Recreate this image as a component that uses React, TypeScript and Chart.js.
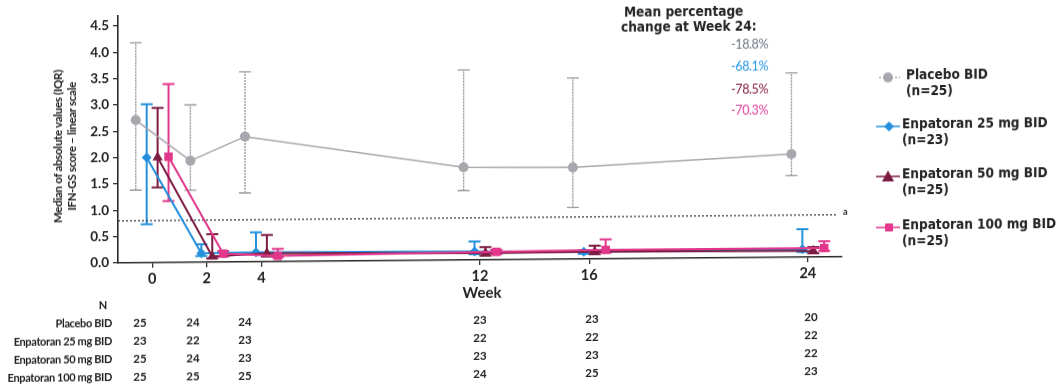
import { useEffect, useRef } from 'react';
import { Chart, registerables } from 'chart.js';

Chart.register(...registerables);

// ---- data ----
const weeks = [0, 2, 4, 12, 16, 24];
const yTickValues = [0, 0.5, 1, 1.5, 2, 2.5, 3, 3.5, 4, 4.5];

const seriesNames = ['Placebo BID', 'Enpatoran 25 mg BID', 'Enpatoran 50 mg BID', 'Enpatoran 100 mg BID'];
const seriesN = [25, 23, 25, 25];

const placeboMedian = [2.71, 1.93, 2.38, 1.76, 1.74, 1.96];
const placeboQ1 = [1.38, 1.37, 1.31, 1.32, 0.98, 1.55];
const placeboQ3 = [4.18, 2.99, 3.61, 3.61, 3.44, 3.5];

const enp25Median = [2.0, 0.17, 0.18, 0.16, 0.14, 0.15];
const enp25Q1 = [0.73, 0.12, 0.14, 0.11, 0.1, 0.1];
const enp25Q3 = [3.01, 0.34, 0.56, 0.35, 0.17, 0.53];

const enp50Median = [2.0, 0.11, 0.16, 0.13, 0.14, 0.12];
const enp50Q1 = [1.43, 0.07, 0.1, 0.08, 0.09, 0.07];
const enp50Q3 = [2.94, 0.53, 0.51, 0.24, 0.25, 0.19];

const enp100Median = [2.01, 0.16, 0.11, 0.15, 0.17, 0.17];
const enp100Q1 = [1.17, 0.11, 0.08, 0.11, 0.12, 0.12];
const enp100Q3 = [3.39, 0.21, 0.24, 0.19, 0.37, 0.3];

const nPlacebo = [25, 24, 24, 23, 23, 20];
const nEnp25 = [23, 22, 23, 22, 22, 22];
const nEnp50 = [25, 24, 23, 23, 23, 22];
const nEnp100 = [25, 25, 25, 24, 25, 23];

const meanChangeWeek24 = [-18.8, -68.1, -78.5, -70.3];
const thresholdValue = 0.8;

// ---- layout / style ----
const W = 1064;
const H = 388;
const AREA_LEFT = 118;
const AREA_RIGHT = 842;
const AREA_TOP = 16;
const AREA_BOTTOM = 263;
const X_MIN = -1.25;
const X_MAX = 25.25;
const Y_MAX = 4.69;

const styles = [
  { color: '#a7a7ad', bar: '#9a9aa0', dash: [2, 1], lineWidth: 1.5, pointStyle: 'circle', radius: 5, offset: -0.6, text: '#6b7282' },
  { color: '#2490dc', bar: '#2490dc', dash: [], lineWidth: 2, pointStyle: 'rectRot', radius: 5, offset: -0.2, text: '#2196e6' },
  { color: '#7c1c42', bar: '#7c1c42', dash: [], lineWidth: 2, pointStyle: 'triangle', radius: 6, offset: 0.2, text: '#85193f' },
  { color: '#e2378b', bar: '#e2378b', dash: [], lineWidth: 2, pointStyle: 'rect', radius: 6, offset: 0.6, text: '#e23d98' },
];

const medians = [placeboMedian, enp25Median, enp50Median, enp100Median];
const q1s = [placeboQ1, enp25Q1, enp50Q1, enp100Q1];
const q3s = [placeboQ3, enp25Q3, enp50Q3, enp100Q3];
const counts = [nPlacebo, nEnp25, nEnp50, nEnp100];

const tableColX = [140, 193, 245, 480, 592, 811];
const tableRowY = [322.5, 341, 358.5, 376.5];

const legendY = [84, 133, 183, 234];
const pctY = [50.4, 72.1, 94.7, 116.4];

// vertical IQR whiskers with caps, drawn beneath the lines and markers
const iqrPlugin = {
  id: 'iqrWhiskers',
  beforeDatasetsDraw(chart: any) {
    const ctx = chart.ctx;
    const yScale = chart.scales.y;
    chart.data.datasets.forEach((ds: any, i: number) => {
      if (!ds.lo) return;
      const meta = chart.getDatasetMeta(i);
      meta.data.forEach((pt: any, j: number) => {
        const x = pt.x;
        const yl = yScale.getPixelForValue(ds.lo[j]);
        const yh = yScale.getPixelForValue(ds.hi[j]);
        ctx.save();
        ctx.strokeStyle = ds.whiskerColor;
        ctx.lineWidth = ds.whiskerWidth;
        ctx.setLineDash(ds.whiskerDash);
        ctx.beginPath();
        ctx.moveTo(x, yl);
        ctx.lineTo(x, yh);
        ctx.stroke();
        ctx.setLineDash([]);
        ctx.beginPath();
        ctx.moveTo(x - 6, yh);
        ctx.lineTo(x + 6, yh);
        ctx.moveTo(x - 6, yl);
        ctx.lineTo(x + 6, yl);
        ctx.stroke();
        ctx.restore();
      });
    });
  },
};

function LegendMarker({ idx }: { idx: number }) {
  const s = styles[idx];
  let shape: any = null;
  if (s.pointStyle === 'circle') shape = <circle cx={14} cy={7} r={5} fill={s.color} />;
  if (s.pointStyle === 'rectRot') shape = <polygon points="15,2 20,7 15,12 10,7" fill={s.color} />;
  if (s.pointStyle === 'triangle') shape = <polygon points="14,1 20,12 8,12" fill={s.color} />;
  if (s.pointStyle === 'rect') shape = <rect x={11} y={3} width={8} height={8} fill={s.color} />;
  return (
    <svg width={28} height={14} style={{ position: 'absolute', left: 874, top: legendY[idx] - 7 }}>
      <line x1={idx === 0 ? 5 : 2} y1={7} x2={26} y2={7} stroke={s.color} strokeWidth={1.5} strokeDasharray={idx === 0 ? '2 2' : undefined} />
      {shape}
    </svg>
  );
}

export default function App() {
  const canvasRef = useRef<HTMLCanvasElement>(null);

  useEffect(() => {
    const datasets: any[] = medians.map((m, i) => ({
      label: seriesNames[i],
      data: weeks.map((w, j) => ({ x: w + styles[i].offset, y: m[j] })),
      lo: q1s[i],
      hi: q3s[i],
      whiskerColor: styles[i].bar,
      whiskerWidth: i === 0 ? 1.4 : 2,
      whiskerDash: styles[i].dash,
      borderColor: styles[i].color,
      backgroundColor: styles[i].color,
      borderWidth: styles[i].lineWidth,
      pointStyle: styles[i].pointStyle,
      pointRadius: styles[i].radius,
      pointBorderWidth: 0,
      pointBackgroundColor: styles[i].color,
      tension: 0,
      order: 4 - i,
    }));
    datasets.push({
      label: 'threshold',
      data: [
        { x: X_MIN, y: thresholdValue },
        { x: 25.1, y: thresholdValue },
      ],
      borderColor: '#3c4250',
      borderWidth: 1.3,
      borderDash: [2, 2],
      pointRadius: 0,
      order: 10,
    });

    const chart = new Chart(canvasRef.current as HTMLCanvasElement, {
      type: 'line',
      data: { datasets },
      plugins: [iqrPlugin],
      options: {
        animation: false,
        responsive: false,
        devicePixelRatio: 1,
        layout: { padding: { left: 0, top: AREA_TOP, right: W - AREA_RIGHT, bottom: 0 } },
        plugins: { legend: { display: false }, tooltip: { enabled: false } },
        scales: {
          x: {
            type: 'linear',
            min: X_MIN,
            max: X_MAX,
            afterBuildTicks: (scale: any) => {
              scale.ticks = weeks.map((v) => ({ value: v }));
            },
            afterFit: (scale: any) => {
              scale.height = H - AREA_BOTTOM;
            },
            ticks: {
              color: '#222',
              font: { family: 'Lato', size: 14.5, weight: 'bold' },
              padding: 3,
              maxRotation: 0,
              autoSkip: false,
              callback: (v: any) => String(v),
            },
            grid: { drawOnChartArea: false, drawTicks: true, tickLength: 5, color: '#333', lineWidth: 1.3 },
            border: { display: true, color: '#2a2a2a', width: 1.6 },
          },
          y: {
            type: 'linear',
            min: 0,
            max: Y_MAX,
            afterBuildTicks: (scale: any) => {
              scale.ticks = yTickValues.map((v) => ({ value: v }));
            },
            afterFit: (scale: any) => {
              scale.width = AREA_LEFT;
            },
            ticks: {
              color: '#222',
              font: { family: 'Lato', size: 13.5, weight: 'bold' },
              padding: 4,
              callback: (v: any) => Number(v).toFixed(1),
            },
            grid: { drawOnChartArea: false, drawTicks: true, tickLength: 5, color: '#333', lineWidth: 1.3 },
            border: { display: true, color: '#2a2a2a', width: 1.6 },
          },
        },
      } as any,
    });
    return () => chart.destroy();
  }, []);

  const legendFont = '"DejaVu Sans Condensed", "DejaVu Sans", sans-serif';

  return (
    <div
      style={{
        position: 'absolute',
        left: 0,
        top: 0,
        width: W,
        height: H,
        background: '#fff',
        overflow: 'hidden',
        transform: 'skewY(-0.487deg)',
        transformOrigin: '118px 0',
        fontFamily: 'Lato, sans-serif',
        color: '#222',
      }}
    >
      <canvas ref={canvasRef} width={W} height={H} style={{ position: 'absolute', left: 0, top: 0 }} />

      {/* y-axis title */}
      <div
        style={{
          position: 'absolute',
          left: 65 - 100,
          top: 146 - 14,
          width: 200,
          height: 28,
          lineHeight: '14px',
          fontSize: 11.5,
          fontWeight: 700,
          letterSpacing: '-0.3px',
          textAlign: 'center',
          transform: 'rotate(-90deg)',
          whiteSpace: 'nowrap',
        }}
      >
        <div>Median of absolute values (IQR)</div>
        <div>IFN-GS score – linear scale</div>
      </div>

      {/* x-axis title */}
      <div
        style={{
          position: 'absolute',
          left: 482 - 50,
          top: 295 - 10,
          width: 100,
          lineHeight: '20px',
          textAlign: 'center',
          fontSize: 15,
          fontWeight: 700,
        }}
      >
        Week
      </div>

      {/* threshold footnote mark */}
      <div style={{ position: 'absolute', left: 843, top: 213, fontSize: 9, fontWeight: 700, lineHeight: '10px' }}>a</div>

      {/* week-24 mean change annotation */}
      <div
        style={{
          position: 'absolute',
          left: 621,
          top: 16.8 - 7.5,
          lineHeight: '15px',
          fontFamily: legendFont,
          fontWeight: 700,
          fontSize: 13.5,
          whiteSpace: 'nowrap',
        }}
      >
        <div style={{ paddingLeft: 3 }}>Mean percentage</div>
        <div>change at Week 24:</div>
      </div>
      {meanChangeWeek24.map((v, i) => (
        <div
          key={'pct' + i}
          style={{
            position: 'absolute',
            left: 768 - 100,
            width: 100,
            top: pctY[i] - 8,
            lineHeight: '16px',
            textAlign: 'right',
            fontSize: 12.5,
            letterSpacing: '-0.4px',
            color: styles[i].text,
          }}
        >
          {v.toFixed(1) + '%'}
        </div>
      ))}

      {/* legend */}
      {seriesNames.map((name, i) => (
        <div key={'lg' + i}>
          <LegendMarker idx={i} />
          <div
            style={{
              position: 'absolute',
              left: i === 0 ? 906 : 902,
              top: legendY[i] - 2 - 8,
              lineHeight: '15.5px',
              fontFamily: legendFont,
              fontWeight: 700,
              fontSize: 13.5,
              whiteSpace: 'nowrap',
            }}
          >
            <div>{name}</div>
            <div>{'(n=' + seriesN[i] + ')'}</div>
          </div>
        </div>
      ))}

      {/* patient counts table */}
      <div style={{ position: 'absolute', left: 103 - 10, width: 20, top: 305 - 8, lineHeight: '16px', textAlign: 'center', fontSize: 11, fontWeight: 700 }}>
        N
      </div>
      {seriesNames.map((name, i) => (
        <div key={'row' + i}>
          <div
            style={{
              position: 'absolute',
              left: 112 - 200,
              width: 200,
              top: tableRowY[i] - 8,
              lineHeight: '16px',
              textAlign: 'right',
              fontSize: 11,
              fontWeight: 700,
              letterSpacing: '-0.35px',
              whiteSpace: 'nowrap',
            }}
          >
            {name}
          </div>
          {counts[i].map((n, j) => (
            <div
              key={'c' + i + '-' + j}
              style={{
                position: 'absolute',
                left: tableColX[j] - 20,
                width: 40,
                top: tableRowY[i] - 8,
                lineHeight: '16px',
                textAlign: 'center',
                fontSize: 11.5,
                fontWeight: 700,
              }}
            >
              {n}
            </div>
          ))}
        </div>
      ))}
    </div>
  );
}
